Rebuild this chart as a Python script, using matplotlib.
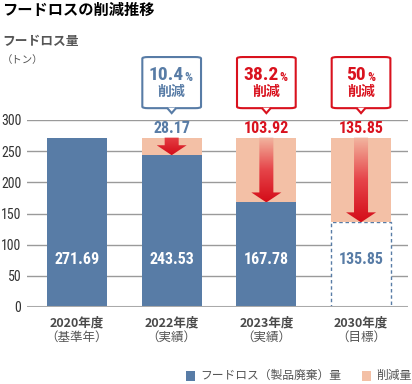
import numpy as np
import matplotlib
matplotlib.use("Agg")
import matplotlib.pyplot as plt
from matplotlib.patches import Rectangle, Polygon, FancyBboxPatch
from matplotlib.colors import LinearSegmentedColormap
from matplotlib import font_manager

plt.rcParams['font.family'] = ['Noto Sans CJK JP', 'DejaVu Sans']

# condensed face for the numbers
names = {f.name for f in font_manager.fontManager.ttflist}
NUM = [n for n in ['Roboto Condensed', 'Fira Sans Condensed'] if n in names] + ['DejaVu Sans']

# data
years = ["2020年度", "2022年度", "2023年度", "2030年度"]
notes = ["（基準年）", "（実績）", "（実績）", "（目標）"]
loss = [271.69, 243.53, 167.78, 135.85]
reduced = [0, 28.17, 103.92, 135.85]
rates = ["", "10.4", "38.2", "50"]
yticks = [0, 50, 100, 150, 200, 250, 300]

BLUE = "#587ca6"
PINK = "#f3c0a6"
RED = "#d9121e"
GRAY = "#555555"

fig = plt.figure(figsize=(4.12, 3.84), dpi=100)
ax = fig.add_axes([27 / 412, 1 - 307 / 384, 381 / 412, 187 / 384])
x = np.arange(len(years))
w = 0.635

for y in yticks[1:]:
    ax.axhline(y, color="#9a9a9a", lw=1, zorder=0)
ax.axhline(0, color="#aaaaaa", lw=2.2, zorder=5)

grad = LinearSegmentedColormap.from_list("g", ["#f2b59f", "#e6454a", "#d40d19"])

for i in range(len(years)):
    if i < 3:
        ax.bar(x[i], loss[i], w, color=BLUE, zorder=2)
        ax.text(x[i], 77, f"{loss[i]:.2f}", color="white", fontsize=11.5,
                fontweight="bold", family=NUM, ha="center", va="center", zorder=6)
    else:
        ax.add_patch(Rectangle((x[i] - w / 2, 0), w, loss[i], facecolor="white",
                               edgecolor=BLUE, lw=1, ls=(0, (2.5, 2)), zorder=2))
        ax.text(x[i], 77, f"{loss[i]:.2f}", color=BLUE, fontsize=11.5,
                fontweight="bold", family=NUM, ha="center", va="center", zorder=6)
    if reduced[i] > 0:
        top = loss[i] + reduced[i]
        ax.bar(x[i], reduced[i], w, bottom=loss[i], color=PINK, zorder=2)
        # gradient arrow, top of the pink part down to the new total
        sw, hw, hl = 0.148, 0.317, 16
        tip = loss[i]
        neck = tip + hl
        c = x[i]
        pts = [(c - sw / 2, top), (c + sw / 2, top), (c + sw / 2, neck),
               (c + hw / 2, neck), (c, tip), (c - hw / 2, neck), (c - sw / 2, neck)]
        poly = Polygon(pts, closed=True, facecolor="none", edgecolor="none", zorder=3)
        ax.add_patch(poly)
        lo = 0.0 if reduced[i] > 50 else 0.55
        img = ax.imshow(np.linspace(1, lo, 100).reshape(-1, 1), cmap=grad, vmin=0, vmax=1,
                        aspect="auto", extent=(c - hw / 2, c + hw / 2, tip, top),
                        origin="lower", zorder=3)
        img.set_clip_path(poly)
        col = BLUE if i == 1 else RED
        ax.text(x[i], top + 3, f"{reduced[i]:.2f}", color=col, fontsize=11.5,
                fontweight="bold", family=NUM, ha="center", va="bottom", zorder=6)
        # callout box
        bx0, bx1 = c - 0.31, c + 0.31
        by0, by1 = 319, 401
        box = FancyBboxPatch((bx0, by0), bx1 - bx0, by1 - by0,
                             boxstyle="round,pad=0,rounding_size=0.06", mutation_aspect=40,
                             facecolor="white", edgecolor=col, lw=1.5, clip_on=False, zorder=7)
        ax.add_patch(box)
        ax.add_patch(Polygon([(c - 0.05, by0 + 0.8), (c, 311), (c + 0.05, by0 + 0.8)],
                             closed=False, facecolor="white", edgecolor=col, lw=1.5,
                             clip_on=False, zorder=8, joinstyle="miter"))
        off = -0.02 + 0.037 * len(rates[i])
        ax.text(c + off, 372, rates[i], color=col, fontsize=14, fontweight="bold",
                family=NUM, ha="right", va="center", clip_on=False, zorder=9)
        ax.text(c + off + 0.01, 368, "%", color=col, fontsize=9, family=NUM,
                fontweight="bold", ha="left", va="center", clip_on=False, zorder=9)
        ax.text(c, 345, "削減", color=col, fontsize=10, fontweight="bold",
                ha="center", va="center", clip_on=False, zorder=9)

ax.set_xlim(-0.528, 3.496)
ax.set_ylim(0, 300)
ax.set_yticks(yticks)
ax.set_yticklabels([str(v) for v in yticks], fontsize=10, color="#333333", family=NUM)
ax.tick_params(axis="y", length=0, pad=4)
ax.set_xticks([])
for s in ax.spines.values():
    s.set_visible(False)

for i in range(len(years)):
    ax.text(x[i], -25, years[i], color="#4a4a4a", fontsize=9, fontweight="bold",
            ha="center", va="center", clip_on=False)
    ax.text(x[i], -49, notes[i], color=GRAY, fontsize=9,
            ha="center", va="center", clip_on=False)

fig.text(2 / 412, 1 - 10 / 384, "フードロスの削減推移", fontsize=11, fontweight="bold",
         color="black", ha="left", va="center")
fig.text(2 / 412, 1 - 41 / 384, "フードロス量", fontsize=9.2, fontweight="bold",
         color=GRAY, ha="left", va="center")
fig.text(2 / 412, 1 - 60 / 384, "（トン）", fontsize=7.5, color=GRAY, ha="left", va="center")

# legend
fig.patches.append(Rectangle((186 / 412, 1 - 381 / 384), 9 / 412, 10 / 384,
                             facecolor=BLUE, transform=fig.transFigure))
fig.text(200 / 412, 1 - 375 / 384, "フードロス（製品廃棄）量", fontsize=8.5, color=GRAY,
         ha="left", va="center")
fig.patches.append(Rectangle((362 / 412, 1 - 381 / 384), 9 / 412, 10 / 384,
                             facecolor=PINK, transform=fig.transFigure))
fig.text(376 / 412, 1 - 375 / 384, "削減量", fontsize=8.5, color=GRAY,
         ha="left", va="center")

fig.savefig("out.png", dpi=100)
